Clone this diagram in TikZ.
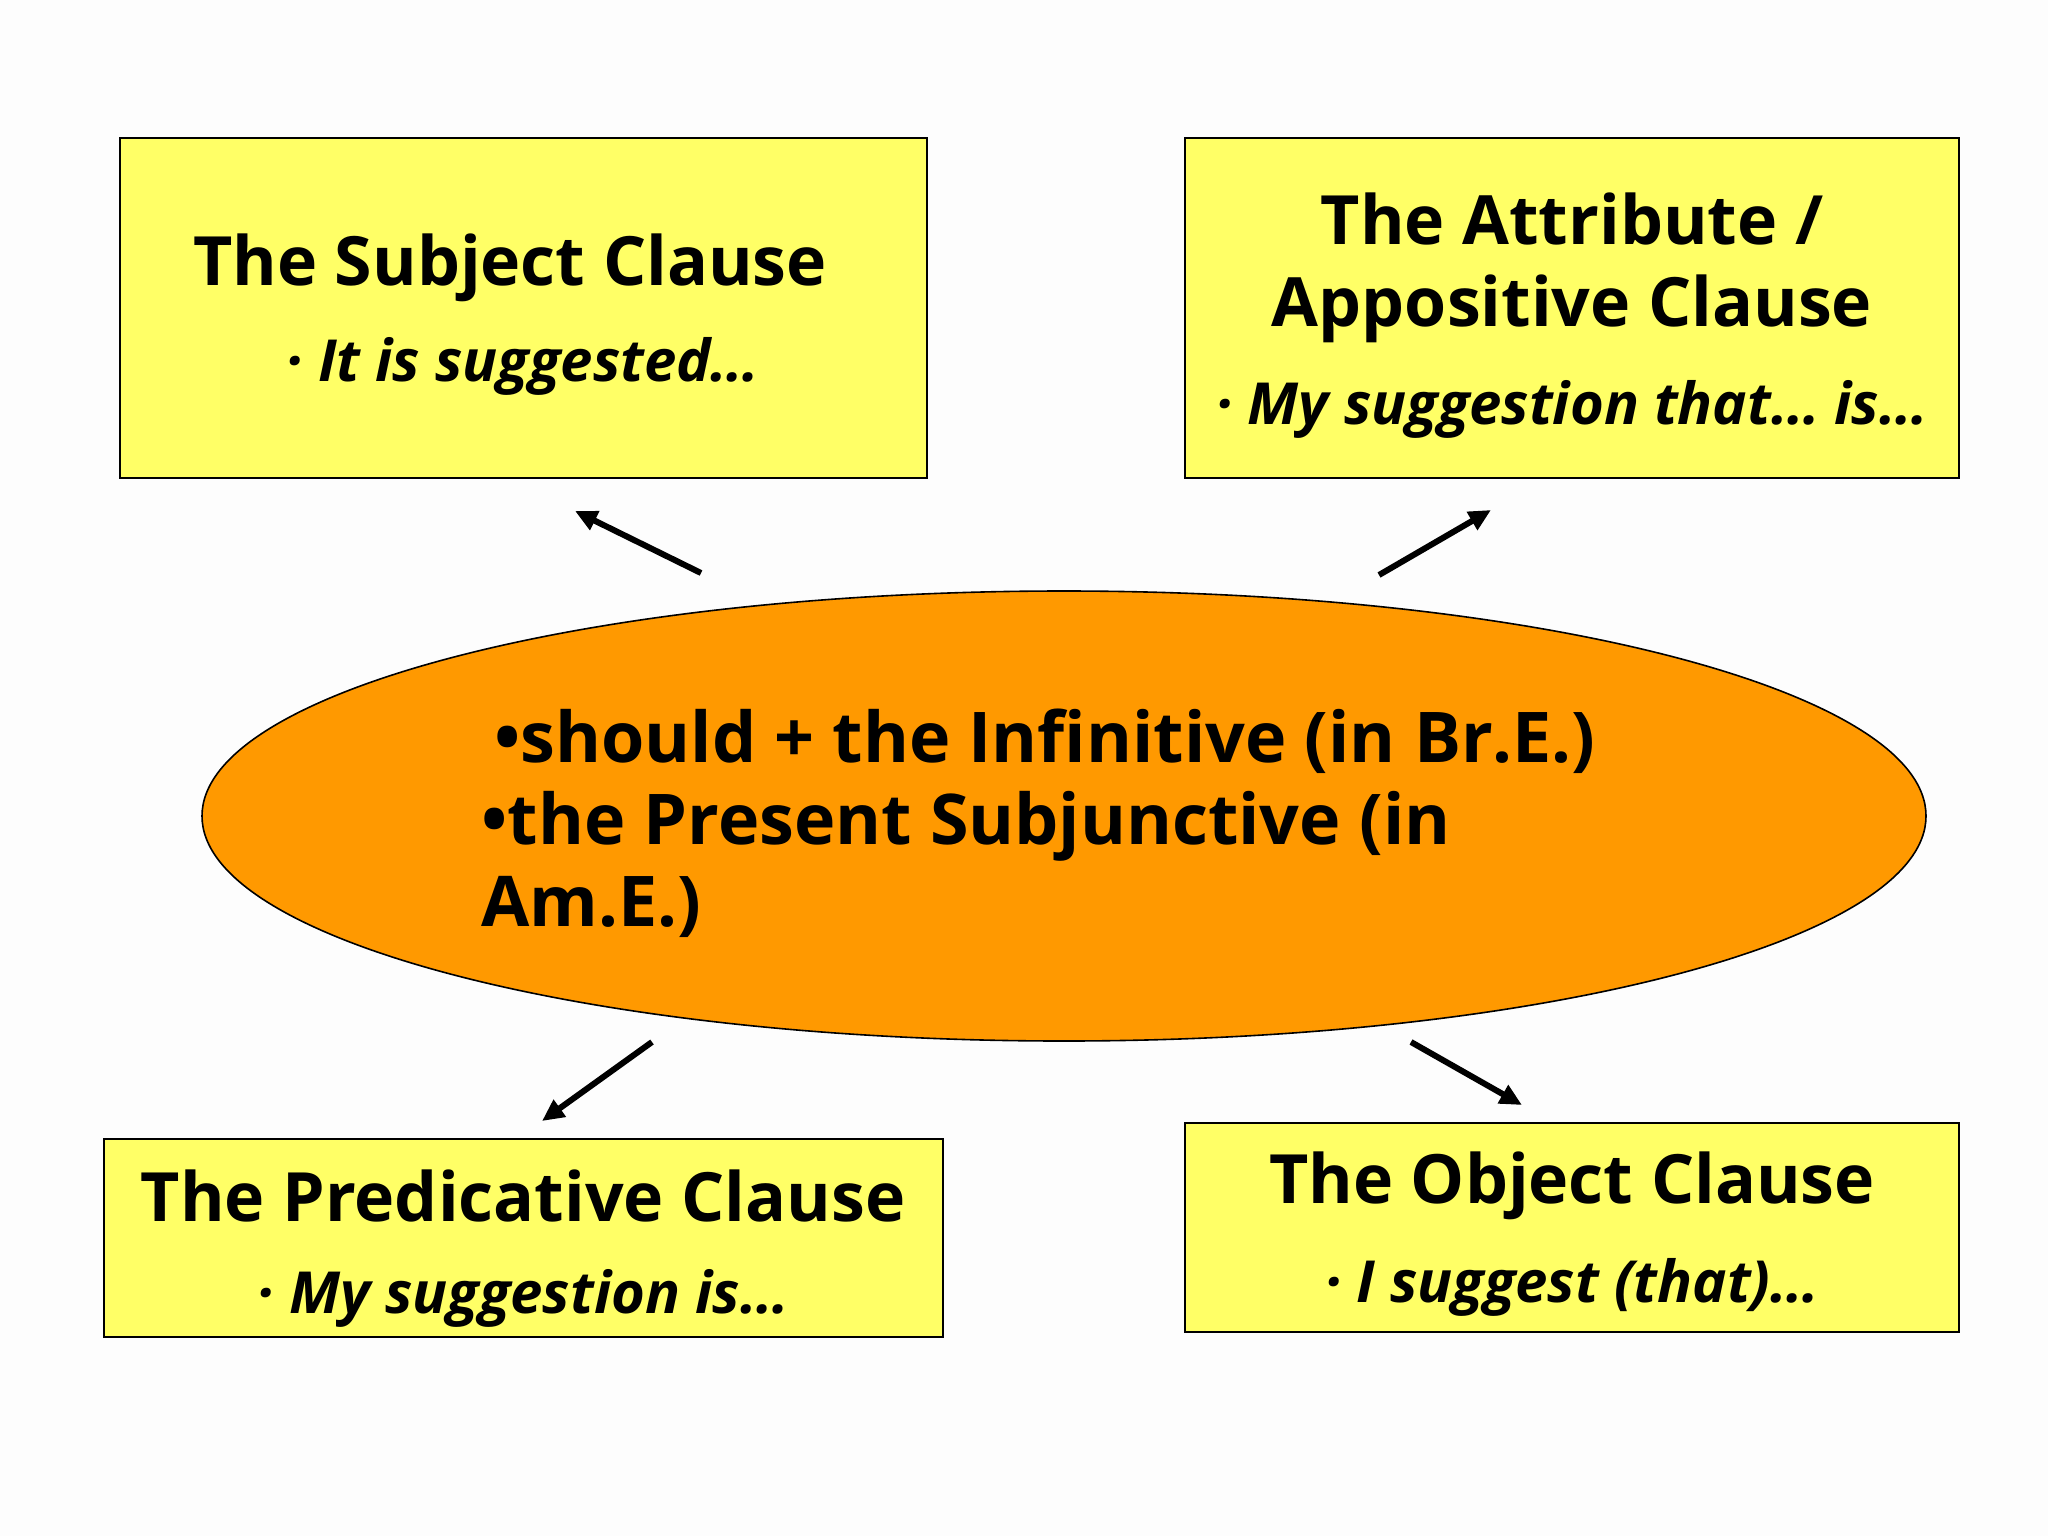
\documentclass[tikz,border=0pt]{standalone}
\usepackage{fontspec}
\setmainfont{Open Sans}
\usetikzlibrary{shapes.geometric,arrows.meta}
\definecolor{boxyellow}{HTML}{FFFF66}
\definecolor{ellorange}{HTML}{FF9900}
\definecolor{bgcol}{HTML}{FDFDFD}
\begin{document}
\begin{tikzpicture}[x=0.5pt,y=-0.5pt,
  box/.style={draw=black, fill=boxyellow, line width=0.8pt, inner sep=0pt},
  title/.style={font=\bfseries\fontsize{34}{41}\selectfont, align=center, inner sep=0pt},
  sub/.style={font=\bfseries\itshape\fontsize{29}{34}\selectfont, inner sep=0pt},
  arr/.style={line width=3pt, -{Triangle[length=11pt,width=10pt]}}]
\fill[bgcol] (0,0) rectangle (2048,1536);
\useasboundingbox (0,0) rectangle (2048,1536);
% boxes
\node[box, minimum width=403.5pt, minimum height=170pt] (b1) at (523.5,308) {};
\node[box, minimum width=387pt, minimum height=170pt] (b2) at (1572,308) {};
\node[box, minimum width=419.5pt, minimum height=99pt] (b3) at (523.5,1238) {};
\node[box, minimum width=387pt, minimum height=104.5pt] (b4) at (1572,1227.5) {};
% ellipse
\node[ellipse, draw=black, fill=ellorange, line width=0.8pt, inner sep=0pt,
      minimum width=862pt, minimum height=225pt] (e) at (1064,816) {};
% texts
\node[title] (t1) at (510,268) {The Subject Clause};
\node[sub] (s1) at (523,366) {· It is suggested…};
\node[title] (t2) at (1572,268) {The Attribute /\\Appositive Clause};
\node[sub] (s2) at (1572,409) {· My suggestion that… is…};
\node[title] (t3) at (523,1196) {The Predicative Clause};
\node[sub] (s3) at (523,1298) {· My suggestion is…};
\node[title] (t4) at (1572,1186) {The Object Clause};
\node[sub] (s4) at (1572,1287) {· I suggest (that)…};
\node[anchor=west, align=left, inner sep=0pt, font=\bfseries\fontsize{35}{41}\selectfont] (et) at (481,823)
  {\hspace*{6.5pt}•should + the Infinitive (in Br.E.)\\•the Present Subjunctive (in\\Am.E.)};
% arrows
\coordinate (a1s) at (701,573); \coordinate (a1e) at (575,511);
\coordinate (a2s) at (1379,575); \coordinate (a2e) at (1491,510);
\coordinate (a3s) at (652,1042); \coordinate (a3e) at (542,1121);
\coordinate (a4s) at (1411,1042); \coordinate (a4e) at (1522,1105);
\draw[arr] (a1s) -- (a1e);
\draw[arr] (a2s) -- (a2e);
\draw[arr] (a3s) -- (a3e);
\draw[arr] (a4s) -- (a4e);
\end{tikzpicture}
\end{document}
